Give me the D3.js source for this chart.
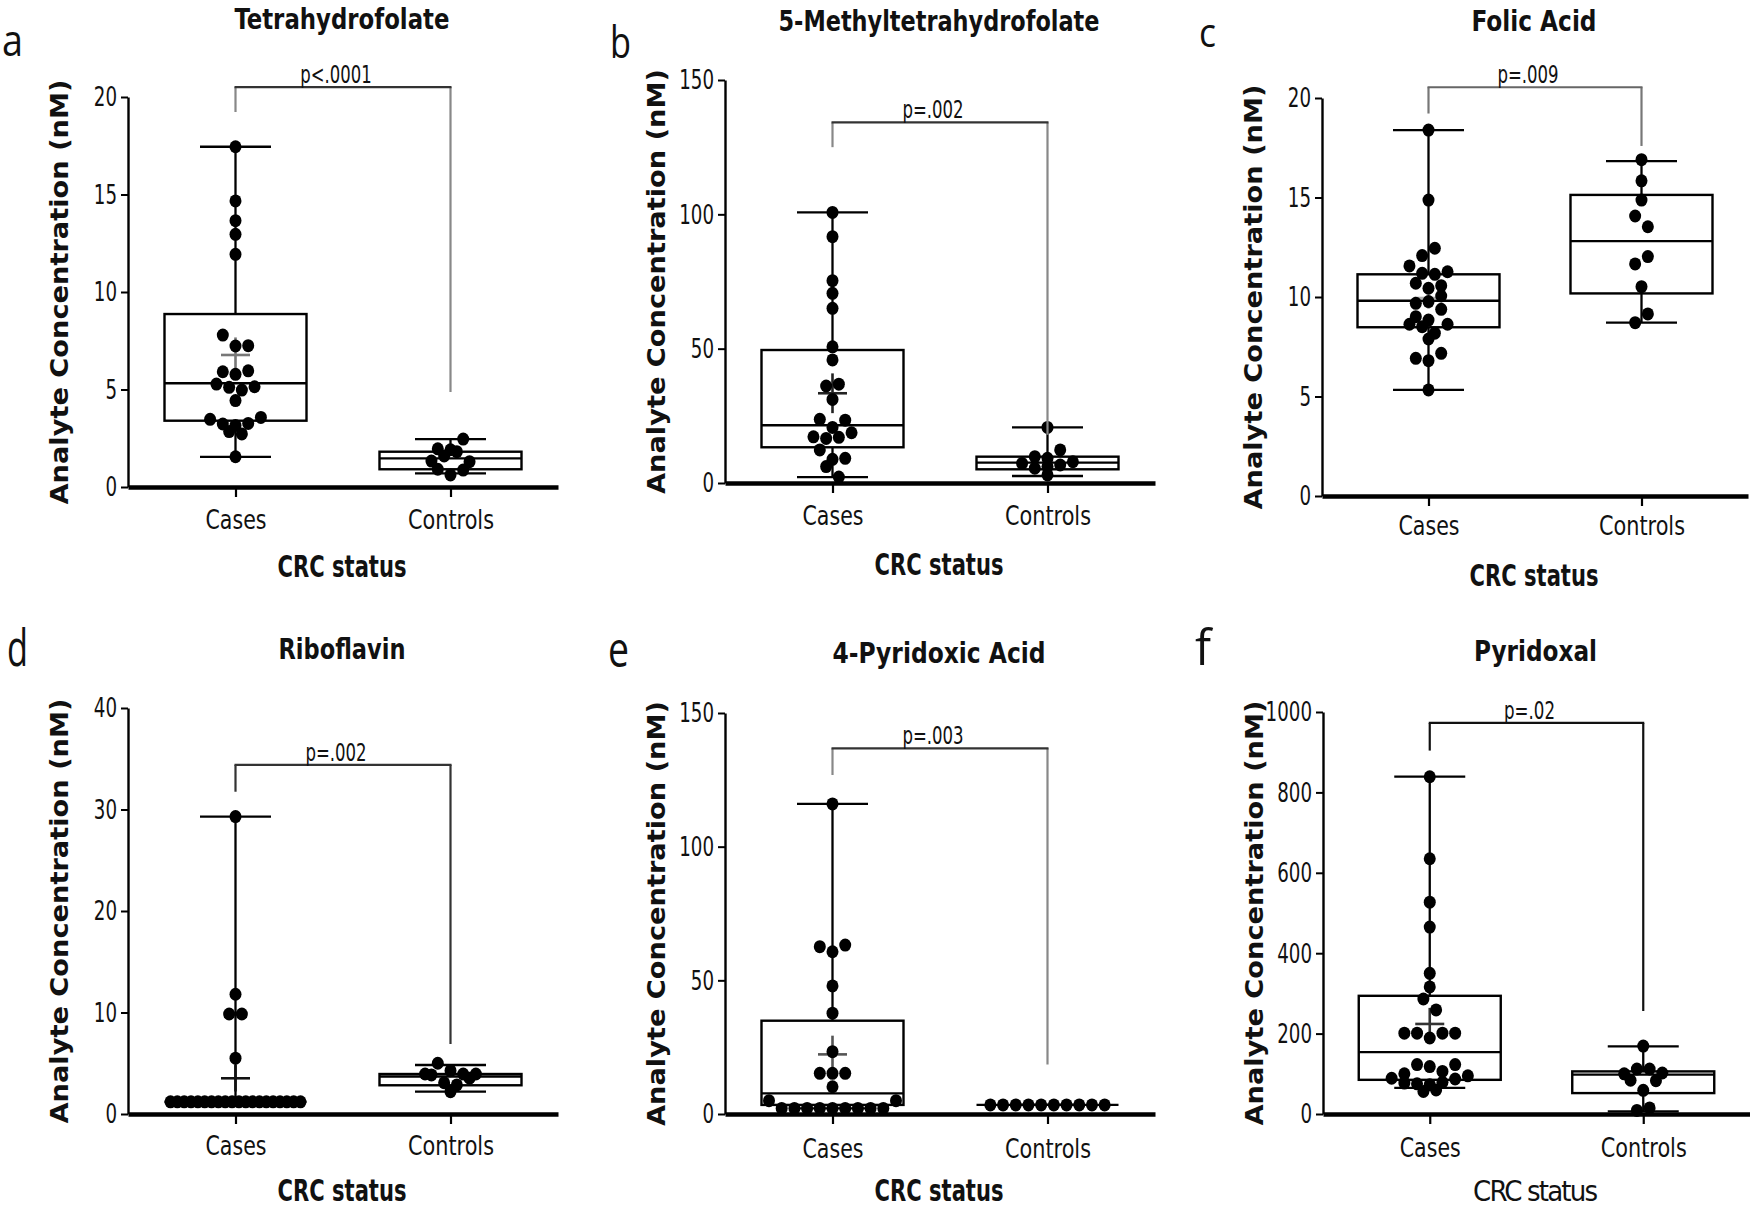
<!DOCTYPE html>
<html><head><meta charset="utf-8">
<script src="https://cdn.jsdelivr.net/npm/d3@7"></script>
<style>html,body{margin:0;padding:0;background:#fff;} svg{display:block;}</style>
</head><body><svg id="chart" width="1750" height="1209"></svg>
<script>
// ---------------- DATA ----------------
const groups = ["Cases", "Controls"];
const panelLetters = ["a", "b", "c", "d", "e", "f"];
const titles = ["Tetrahydrofolate", "5-Methyltetrahydrofolate", "Folic Acid", "Riboflavin", "4-Pyridoxic Acid", "Pyridoxal"];
const pTexts = ["p<.0001", "p=.002", "p=.009", "p=.002", "p=.003", "p=.02"];
const yMaxes = [20, 150, 20, 40, 150, 1000];
const tickLists = [[0,5,10,15,20],[0,50,100,150],[0,5,10,15,20],[0,10,20,30,40],[0,50,100,150],[0,200,400,600,800,1000]];

// Tetrahydrofolate
const thfCases = [17.45,14.67,12.96,13.66,11.93,7.79,7.23,7.25,5.91,5.78,5.96,5.28,5.11,4.97,5.14,4.43,3.47,3.23,2.84,2.72,3.16,3.26,3.57,1.55];
const thfControls = [1.96,1.33,1.91,0.91,1.59,0.62,0.87,1.81,1.30,2.46];
const thfBox = [[1.55,3.40,5.32,8.87,17.45],[0.70,0.91,1.47,1.81,2.46]]; // min,q1,median,q3,max
const thfMean = [[6.77,0.9],[1.45,0]];                                 // mean, error
const thfBracket = [20.51,19.23,4.87];                                   // top, left end, right end

// 5-Methyltetrahydrofolate
const mthfCases = [100.7,91.7,75.3,70.6,65.0,50.7,45.8,36.1,36.8,31.1,23.7,20.7,23.4,17.2,16.6,17.0,18.7,12.3,8.8,6.1,9.2,2.2];
const mthfControls = [20.7,9.8,9.2,12.3,7.3,5.5,6.1,6.7,7.9,3.0];
const mthfBox = [[2.2,13.3,21.5,49.5,100.7],[2.6,5.1,7.6,9.8,20.7]];
const mthfMean = [[33.4,7.4],[8.3,0]];
const mthfBracket = [134.2,125.0,18.0];

// Folic acid
const folicCases = [18.39,14.87,12.08,12.45,11.56,11.19,11.14,11.27,10.69,10.44,10.57,9.68,9.77,10.05,9.01,8.84,9.38,8.63,8.51,8.18,8.63,7.89,6.92,6.80,7.17,5.33];
const folicControls = [16.9,15.84,14.87,14.07,13.53,11.66,12.03,10.52,8.71,9.15];
const folicBox = [[5.33,8.48,9.81,11.14,18.39],[8.71,10.18,12.81,15.13,16.83]];
const folicMean = [[9.95,0.55],[12.81,0]];
const folicBracket = [20.54,19.22,17.59];

// Riboflavin
const riboCases = [29.3,11.8,9.85,9.85,5.5,1.2,1.2,1.2,1.2,1.2,1.2,1.2,1.2,1.2,1.2,1.2,1.2,1.2,1.2,1.2,1.2,1.2,1.2,1.2,1.2];
const riboControls = [3.94,3.85,3.08,5.0,2.2,2.86,4.27,3.52,3.94,3.94];
const riboBox = [[1.2,1.2,1.2,1.2,29.3],[2.2,2.83,3.7,3.94,4.83]];
const riboMean = [[3.52,1.3],[3.6,0]];
const riboBracket = [34.4,31.75,6.9];

// 4-Pyridoxic acid
const pyrAcidCases = [116,62.6,60.7,63.2,47.9,37.7,23.3,15.2,15.2,10.2,15.2,5.0,2.1,2.1,2.1,2.1,2.1,2.1,2.1,2.1,2.1,5.0];
const pyrAcidControls = [3.4,3.4,3.4,3.4,3.4,3.4,3.4,3.4,3.4,3.4];
const pyrAcidBox = [[2.1,3.4,7.7,34.9,116],[3.4,3.4,3.4,3.4,3.4]];
const pyrAcidMean = [[22.3,7.0],[3.4,0]];
const pyrAcidBracket = [136.8,126.8,18.5];

// Pyridoxal
const pyridoxalCases = [839,635,527,465,350,316,286,259,201,201,189,201,201,100,123,118,106,123,89,77,75,73,79,87,95,56,60];
const pyridoxalControls = [169,100,112,112,102,84,59,83,9,15];
const pyridoxalBox = [[65,85,154,294,839],[6.5,52,98,106,168]];
const pyridoxalMean = [[224,40],[85,0]];
const pyridoxalBracket = [972.7,904,256];

// ---------------- LAYOUT ----------------
const layout = [
  {x0:128, x1:558, yTop:97, yBot:487, letter:[2,56,43,21], titleY:29, titleW:215, catY:529, crcY:577, bold:true, meanColor:"#777", legColor:"#888", barColor:"#333"},
  {x0:725, x1:1155, yTop:80, yBot:483, letter:[610,58,43,21], titleY:31, titleW:321, catY:525, crcY:575, bold:true, meanColor:"#222", legColor:"#888", barColor:"#333"},
  {x0:1322, x1:1748, yTop:98, yBot:496, letter:[1199,47,40,17], titleY:31, titleW:125, catY:535, crcY:586, bold:true, meanColor:"#aaa", legColor:"#777", barColor:"#666"},
  {x0:128, x1:558, yTop:708, yBot:1114, letter:[7,666,52,21], titleY:659, titleW:127, catY:1155, crcY:1201, bold:true, meanColor:"#111", legColor:"#333", barColor:"#333"},
  {x0:725, x1:1155, yTop:713, yBot:1114, letter:[608,667,50,21], titleY:663, titleW:213, catY:1158, crcY:1201, bold:true, meanColor:"#555", legColor:"#888", barColor:"#333"},
  {x0:1323, x1:1750, yTop:712, yBot:1114, letter:[1195,665,49,16], titleY:661, titleW:123, catY:1157, crcY:1201, bold:false, meanColor:"#333", legColor:"#111", barColor:"#111"}
];
const series = [
  [thfCases, thfControls, thfBox, thfMean, thfBracket],
  [mthfCases, mthfControls, mthfBox, mthfMean, mthfBracket],
  [folicCases, folicControls, folicBox, folicMean, folicBracket],
  [riboCases, riboControls, riboBox, riboMean, riboBracket],
  [pyrAcidCases, pyrAcidControls, pyrAcidBox, pyrAcidMean, pyrAcidBracket],
  [pyridoxalCases, pyridoxalControls, pyridoxalBox, pyridoxalMean, pyridoxalBracket]
];

const NARROW = "'Liberation Sans Narrow','Arial Narrow','DejaVu Sans Condensed',sans-serif";
const LETTERF = "'Open Sans','Noto Sans',sans-serif";
const BOXW = 142, CAPW = 71, DOT_R = 6, STEP = 12.7, SPREAD = 130, BIN = 11;

const svg = d3.select("#chart");
svg.append("rect").attr("width",1750).attr("height",1209).attr("fill","#fff");

function swarm(values, y, cx) {
  const items = values.map((v,i)=>({v, i, py:y(v)}));
  const sorted = items.slice().sort((a,b)=>a.py-b.py || a.i-b.i);
  const bins = []; let cur = null;
  sorted.forEach(it => {
    if (cur && it.py - cur[0].py < BIN) cur.push(it); else { cur = [it]; bins.push(cur); }
  });
  bins.forEach(b => {
    b.sort((a,c)=>a.i-c.i);
    const n = b.length;
    const step = n > 1 ? Math.min(STEP, SPREAD/(n-1)) : 0;
    b.forEach((it,k)=>{ it.px = cx + (k-(n-1)/2)*step; });
  });
  return items;
}

layout.forEach((L, pi) => {
  const [cases, controls, box, mean, bracket] = series[pi];
  const g = svg.append("g");
  const y = d3.scaleLinear().domain([0, yMaxes[pi]]).range([L.yBot, L.yTop]);
  const x = d3.scalePoint().domain(groups).range([L.x0, L.x1]).padding(0.5);

  // y axis
  const ya = g.append("g").attr("transform", `translate(${L.x0},0)`)
    .call(d3.axisLeft(y).tickValues(tickLists[pi]).tickSize(7).tickSizeOuter(0).tickPadding(4).tickFormat(d3.format("d")));
  ya.select(".domain").attr("stroke","#000").attr("stroke-width",2.4);
  ya.selectAll(".tick line").attr("stroke","#000").attr("stroke-width",2);
  ya.selectAll(".tick text").attr("fill","#111").style("font-family",NARROW).style("font-size","26px")
    .attr("dy","0.34em")
    .attr("textLength", d => String(d).length*11.6).attr("lengthAdjust","spacingAndGlyphs");

  // x axis
  const xa = g.append("g").attr("transform", `translate(0,${L.yBot})`)
    .call(d3.axisBottom(x).tickSize(10).tickSizeOuter(0));
  xa.select(".domain").attr("stroke","#000").attr("stroke-width",4.5);
  xa.selectAll(".tick line").attr("stroke","#000").attr("stroke-width",2.2);
  xa.selectAll(".tick text").attr("fill","#111").style("font-family",NARROW).style("font-size","27px")
    .attr("y", L.catY - L.yBot).attr("dy", 0)
    .attr("textLength", d => d === "Cases" ? 61 : 86).attr("lengthAdjust","spacingAndGlyphs");

  // y label
  g.append("text").attr("transform", `translate(${L.x0-60},${(L.yTop+L.yBot)/2}) rotate(-90)`)
    .attr("text-anchor","middle").style("font-family","'DejaVu Sans',sans-serif").style("font-weight","bold")
    .style("font-size","25px").attr("fill","#111")
    .attr("textLength",425).attr("lengthAdjust","spacingAndGlyphs")
    .text("Analyte Concentration (nM)");

  // x label
  g.append("text").attr("x", (L.x0+L.x1)/2 - 1).attr("y", L.crcY).attr("text-anchor","middle")
    .style("font-family",NARROW).style("font-weight", L.bold ? "bold" : "normal")
    .style("font-size", L.bold ? "31px" : "29px").attr("fill","#111")
    .attr("textLength", L.bold ? 129 : 125).attr("lengthAdjust", L.bold ? "spacingAndGlyphs" : "spacing")
    .text("CRC status");

  // title
  g.append("text").attr("x", (L.x0+L.x1)/2 - 1).attr("y", L.titleY).attr("text-anchor","middle")
    .style("font-family",NARROW).style("font-weight","bold").style("font-size","29px").attr("fill","#111")
    .attr("textLength", L.titleW).attr("lengthAdjust","spacingAndGlyphs")
    .text(titles[pi]);

  // panel letter
  g.append("text").attr("x", L.letter[0]).attr("y", L.letter[1])
    .style("font-family",LETTERF).style("font-size", L.letter[2]+"px").attr("fill","#111")
    .attr("textLength", L.letter[3]).attr("lengthAdjust","spacingAndGlyphs")
    .text(panelLetters[pi]);

  // boxes, whiskers, means, dots
  [cases, controls].forEach((vals, gi) => {
    const cx = x(groups[gi]);
    const [mn, q1, md, q3, mx] = box[gi];
    const bg = g.append("g");
    bg.append("line").attr("x1",cx).attr("x2",cx).attr("y1",y(mn)).attr("y2",y(mx))
      .attr("stroke","#000").attr("stroke-width",2.3);
    bg.append("rect").attr("x",cx-BOXW/2).attr("width",BOXW).attr("y",y(q3)).attr("height",Math.max(0,y(q1)-y(q3)))
      .attr("fill","#fff").attr("stroke","#000").attr("stroke-width",2.4);
    bg.append("line").attr("x1",cx-BOXW/2).attr("x2",cx+BOXW/2).attr("y1",y(md)).attr("y2",y(md))
      .attr("stroke","#000").attr("stroke-width",2.4);
    [mn, mx].forEach(v => bg.append("line").attr("x1",cx-CAPW/2).attr("x2",cx+CAPW/2).attr("y1",y(v)).attr("y2",y(v))
      .attr("stroke","#000").attr("stroke-width",2.3));
    const [mv, me] = mean[gi];
    if (me > 0) {
      bg.append("line").attr("x1",cx-14.5).attr("x2",cx+14.5).attr("y1",y(mv)).attr("y2",y(mv))
        .attr("stroke",L.meanColor).attr("stroke-width",2.6);
      bg.append("line").attr("x1",cx).attr("x2",cx).attr("y1",y(mv-me)).attr("y2",y(mv+me))
        .attr("stroke",L.meanColor).attr("stroke-width",2.6);
    }
    const pts = swarm(vals, y, cx);
    bg.selectAll("ellipse.dot").data(pts).join("ellipse").attr("class","dot")
      .attr("cx", d=>d.px).attr("cy", d=>d.py).attr("rx", DOT_R).attr("ry", DOT_R+0.5).attr("fill","#000");
  });

  // significance bracket
  const xl = x(groups[0]), xr = x(groups[1]);
  const [bt, bl, br] = bracket;
  g.append("line").attr("x1",xl).attr("x2",xl).attr("y1",y(bt)).attr("y2",y(bl)).attr("stroke",L.legColor).attr("stroke-width",2.2);
  g.append("line").attr("x1",xr).attr("x2",xr).attr("y1",y(bt)).attr("y2",y(br)).attr("stroke",L.legColor).attr("stroke-width",2.2);
  g.append("line").attr("x1",xl-1).attr("x2",xr+1).attr("y1",y(bt)).attr("y2",y(bt)).attr("stroke",L.barColor).attr("stroke-width",2.2);
  g.append("text").attr("x",(xl+xr)/2 - 7).attr("y", y(bt) - 4).attr("text-anchor","middle")
    .style("font-family",NARROW).style("font-size","25px").attr("fill","#111")
    .attr("textLength", pTexts[pi].length*10.2).attr("lengthAdjust","spacingAndGlyphs")
    .text(pTexts[pi]);
});
</script></body></html>
